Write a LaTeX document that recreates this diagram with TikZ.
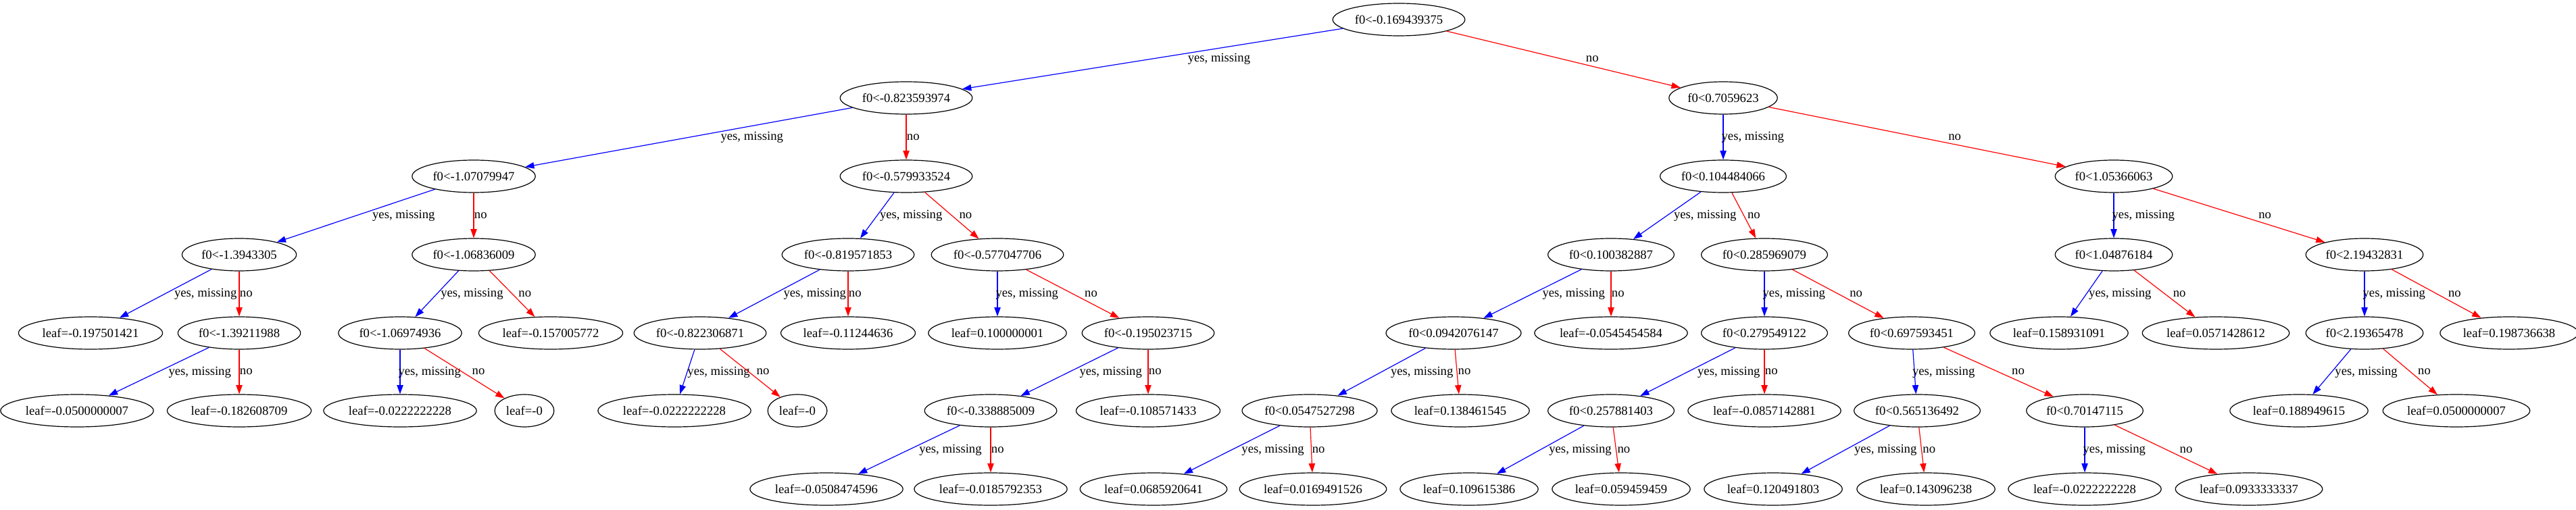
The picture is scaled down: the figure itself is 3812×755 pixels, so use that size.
\documentclass[tikz,border=0pt]{standalone}
\usepackage{fontspec}
\setmainfont{Liberation Serif}
\usepackage{tikz}
\usetikzlibrary{shapes.geometric,arrows.meta,calc}

\tikzset{
  treenode/.style={ellipse, draw, line width=0.9pt, inner xsep=3pt, inner ysep=2pt,
    minimum height=36pt, font=\fontsize{14pt}{16pt}\selectfont},
  yesline/.style={draw=blue, line width=0.9pt, -{Triangle[length=10pt,width=7pt]}, blue},
  noline/.style={draw=red, line width=0.9pt, -{Triangle[length=10pt,width=7pt]}, red},
  edgelab/.style={inner sep=0pt, text height=10pt, text depth=3pt,
    font=\fontsize{14pt}{16pt}\selectfont},
  yeslab/.style={edgelab, anchor=north west, xshift=-2pt},
  nolab/.style={edgelab, anchor=south west, xshift=0.5pt}
}

\begin{document}
\begin{tikzpicture}[x=0.75pt, y=-0.75pt]
  \useasboundingbox (0,0) rectangle (3812,755);

  % root
  \node[treenode] (t) at (2070, 29) {f0<-0.169439375};

  % yes branch of the root
  \node[treenode] (ty) at (1341, 145) {f0<-0.823593974};
  \node[treenode] (tyy) at (701, 261) {f0<-1.07079947};
  \node[treenode] (tyyy) at (354, 377) {f0<-1.3943305};
  \node[treenode] (tyyyy) at (134, 493) {leaf=-0.197501421};
  \node[treenode] (tyyyn) at (354, 493) {f0<-1.39211988};
  \node[treenode] (tyyyny) at (114, 608) {leaf=-0.0500000007};
  \node[treenode] (tyyynn) at (354, 608) {leaf=-0.182608709};
  \node[treenode] (tyyn) at (701, 377) {f0<-1.06836009};
  \node[treenode] (tyyny) at (592, 493) {f0<-1.06974936};
  \node[treenode] (tyynyy) at (592, 608) {leaf=-0.0222222228};
  \node[treenode] (tyynyn) at (776, 608) {leaf=-0};
  \node[treenode] (tyynn) at (815, 493) {leaf=-0.157005772};
  \node[treenode] (tyn) at (1341, 261) {f0<-0.579933524};
  \node[treenode] (tyny) at (1255, 377) {f0<-0.819571853};
  \node[treenode] (tynyy) at (1036, 493) {f0<-0.822306871};
  \node[treenode] (tynyyy) at (998, 608) {leaf=-0.0222222228};
  \node[treenode] (tynyyn) at (1180, 608) {leaf=-0};
  \node[treenode] (tynyn) at (1255, 493) {leaf=-0.11244636};
  \node[treenode] (tynn) at (1476, 377) {f0<-0.577047706};
  \node[treenode] (tynny) at (1476, 493) {leaf=0.100000001};
  \node[treenode] (tynnn) at (1699, 493) {f0<-0.195023715};
  \node[treenode] (tynnny) at (1466, 608) {f0<-0.338885009};
  \node[treenode] (tynnnyy) at (1223, 724) {leaf=-0.0508474596};
  \node[treenode] (tynnnyn) at (1466, 724) {leaf=-0.0185792353};
  \node[treenode] (tynnnn) at (1699, 608) {leaf=-0.108571433};

  % no branch of the root
  \node[treenode] (tn) at (2550, 145) {f0<0.7059623};
  \node[treenode] (tny) at (2550, 261) {f0<0.104484066};
  \node[treenode] (tnyy) at (2384, 377) {f0<0.100382887};
  \node[treenode] (tnyyy) at (2151, 493) {f0<0.0942076147};
  \node[treenode] (tnyyyy) at (1938, 608) {f0<0.0547527298};
  \node[treenode] (tnyyyyy) at (1707, 724) {leaf=0.0685920641};
  \node[treenode] (tnyyyyn) at (1943, 724) {leaf=0.0169491526};
  \node[treenode] (tnyyyn) at (2161, 608) {leaf=0.138461545};
  \node[treenode] (tnyyn) at (2384, 493) {leaf=-0.0545454584};
  \node[treenode] (tnyn) at (2611, 377) {f0<0.285969079};
  \node[treenode] (tnyny) at (2611, 493) {f0<0.279549122};
  \node[treenode] (tnynyy) at (2384, 608) {f0<0.257881403};
  \node[treenode] (tnynyyy) at (2174, 724) {leaf=0.109615386};
  \node[treenode] (tnynyyn) at (2399, 724) {leaf=0.059459459};
  \node[treenode] (tnynyn) at (2611, 608) {leaf=-0.0857142881};
  \node[treenode] (tnynn) at (2829, 493) {f0<0.697593451};
  \node[treenode] (tnynny) at (2837, 608) {f0<0.565136492};
  \node[treenode] (tnynnyy) at (2624, 724) {leaf=0.120491803};
  \node[treenode] (tnynnyn) at (2850, 724) {leaf=0.143096238};
  \node[treenode] (tnynnn) at (3085, 608) {f0<0.70147115};
  \node[treenode] (tnynnny) at (3085, 724) {leaf=-0.0222222228};
  \node[treenode] (tnynnnn) at (3328, 724) {leaf=0.0933333337};
  \node[treenode] (tnn) at (3128, 261) {f0<1.05366063};
  \node[treenode] (tnny) at (3128, 377) {f0<1.04876184};
  \node[treenode] (tnnyy) at (3047, 493) {leaf=0.158931091};
  \node[treenode] (tnnyn) at (3279, 493) {leaf=0.0571428612};
  \node[treenode] (tnnn) at (3499, 377) {f0<2.19432831};
  \node[treenode] (tnnny) at (3499, 493) {f0<2.19365478};
  \node[treenode] (tnnnyy) at (3402, 608) {leaf=0.188949615};
  \node[treenode] (tnnnyn) at (3635, 608) {leaf=0.0500000007};
  \node[treenode] (tnnnn) at (3713, 493) {leaf=0.198736638};

  % every split sends "yes, missing" to <name>y and "no" to <name>n
  \foreach \p in {t,ty,tyy,tyyy,tyyyn,tyyn,tyyny,tyn,tyny,tynyy,tynn,tynnn,tynnny,
                  tn,tny,tnyy,tnyyy,tnyyyy,tnyn,tnyny,tnynyy,tnynn,tnynny,tnynnn,
                  tnn,tnny,tnnn,tnnny} {
    \draw[yesline] (\p) -- (\p y);
    \node[yeslab] at ($(\p)!0.425!(\p y)$) {yes, missing};
    \draw[noline] (\p) -- (\p n);
    \node[nolab] at ($(\p)!0.575!(\p n)$) {no};
  }
\end{tikzpicture}
\end{document}
